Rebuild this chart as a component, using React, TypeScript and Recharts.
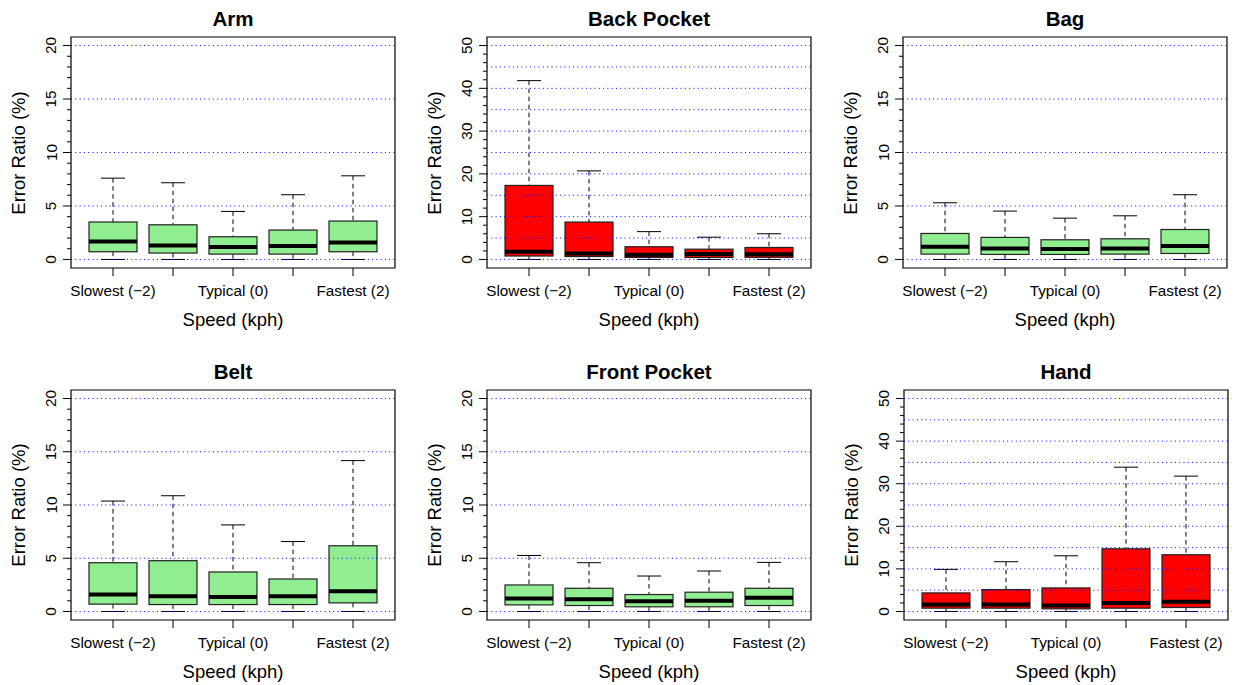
import { Bar, ComposedChart, ReferenceArea, ReferenceLine, XAxis, YAxis } from "recharts";

const speeds = [-2, -1, 0, 1, 2];
const speedLabels = ["Slowest (\u22122)", "", "Typical (0)", "", "Fastest (2)"];

// per speed: [lower whisker, Q1, median, Q3, upper whisker]
const arm = [
  [0, 0.72, 1.68, 3.5, 7.6],
  [0, 0.6, 1.31, 3.24, 7.17],
  [0, 0.5, 1.16, 2.12, 4.49],
  [0, 0.5, 1.25, 2.75, 6.05],
  [0, 0.72, 1.59, 3.59, 7.82],
];
const backPocket = [
  [0, 0.8, 1.8, 17.3, 41.8],
  [0, 0.68, 1.4, 8.74, 20.7],
  [0, 0.47, 1.1, 2.97, 6.5],
  [0, 0.47, 1.3, 2.4, 5.2],
  [0, 0.5, 1.2, 2.8, 6.0],
];
const bag = [
  [0, 0.5, 1.19, 2.43, 5.3],
  [0, 0.47, 1.03, 2.06, 4.52],
  [0, 0.47, 0.97, 1.84, 3.86],
  [0, 0.5, 1.03, 1.93, 4.08],
  [0, 0.56, 1.25, 2.8, 6.05],
];
const belt = [
  [0, 0.69, 1.59, 4.58, 10.37],
  [0, 0.65, 1.43, 4.77, 10.87],
  [0, 0.65, 1.37, 3.71, 8.13],
  [0, 0.65, 1.43, 3.05, 6.57],
  [0, 0.81, 1.9, 6.17, 14.17],
];
const frontPocket = [
  [0, 0.62, 1.21, 2.49, 5.26],
  [0, 0.56, 1.15, 2.18, 4.58],
  [0, 0.44, 0.97, 1.59, 3.33],
  [0, 0.44, 1.0, 1.81, 3.8],
  [0, 0.56, 1.28, 2.18, 4.61],
];
const hand = [
  [0, 0.78, 1.64, 4.36, 9.89],
  [0, 0.78, 1.64, 5.14, 11.68],
  [0, 0.62, 1.4, 5.53, 13.08],
  [0, 0.78, 2.02, 14.72, 33.88],
  [0, 0.93, 2.26, 13.32, 31.78],
];

const minor20 = [0, 1, 2, 3, 4, 5, 6, 7, 8, 9, 10, 11, 12, 13, 14, 15, 16, 17, 18, 19, 20];
const major20 = [0, 5, 10, 15, 20];
const grid20 = [0, 5, 10, 15, 20];
const minor50 = [0, 2, 4, 6, 8, 10, 12, 14, 16, 18, 20, 22, 24, 26, 28, 30, 32, 34, 36, 38, 40, 42, 44, 46, 48, 50];
const major50 = [0, 10, 20, 30, 40, 50];
const grid50 = [0, 5, 10, 15, 20, 25, 30, 35, 40, 45, 50];

const GREEN = "#90ee90";
const RED = "#ff0000";
const FONT = '"Liberation Sans", Arial, Helvetica, sans-serif';

const PLOT_W = 324;
const LEFT = 71;
const TOP = 37;
const PANEL_W = 403;
const PANEL_H = 342;
const Y_AXIS_W = 60;
const X_AXIS_H = 60;

const scales = {
  s20: { domain: [-0.8, 20.8], minor: minor20, major: major20, grid: grid20 },
  s50: { domain: [-2, 52], minor: minor50, major: major50, grid: grid50 },
};

const panels = [
  { title: "Arm", stats: arm, color: GREEN, scale: scales.s20, left: 71, top: 37, h: 231 },
  { title: "Back Pocket", stats: backPocket, color: RED, scale: scales.s50, left: 487, top: 37, h: 231 },
  { title: "Bag", stats: bag, color: GREEN, scale: scales.s20, left: 903, top: 37, h: 231 },
  { title: "Belt", stats: belt, color: GREEN, scale: scales.s20, left: 71, top: 390, h: 230 },
  { title: "Front Pocket", stats: frontPocket, color: GREEN, scale: scales.s20, left: 487, top: 390, h: 230 },
  { title: "Hand", stats: hand, color: RED, scale: scales.s50, left: 904, top: 390, h: 230 },
];

function BoxShape(props: any) {
  const { x, y, width, height, payload, fill } = props;
  const top = Math.min(y, y + height);
  const bottom = Math.max(y, y + height);
  const [lo, q1, med, q3, hi] = payload.stats;
  const toY = (v: number) => bottom - ((v - lo) / (hi - lo)) * (bottom - top);
  const cx = x + width / 2;
  const cap = width / 4;
  return (
    <g>
      <line x1={cx} x2={cx} y1={toY(hi)} y2={toY(q3)} stroke="#000" strokeDasharray="4.5 3.5" />
      <line x1={cx} x2={cx} y1={toY(q1)} y2={toY(lo)} stroke="#000" strokeDasharray="4.5 3.5" />
      <line x1={cx - cap} x2={cx + cap} y1={toY(hi)} y2={toY(hi)} stroke="#000" />
      <line x1={cx - cap} x2={cx + cap} y1={toY(lo)} y2={toY(lo)} stroke="#000" />
      <rect x={x} y={toY(q3)} width={width} height={toY(q1) - toY(q3)} fill={fill} stroke="#222" strokeWidth={1.2} />
      <line x1={x} x2={x + width} y1={toY(med)} y2={toY(med)} stroke="#000" strokeWidth={4} />
    </g>
  );
}

function XTick(props: any) {
  const { x, y, payload } = props;
  const label = speedLabels[speeds.indexOf(payload.value)];
  return (
    <g>
      <line x1={x} x2={x} y1={y} y2={y + 8} stroke="#000" />
      {label && (
        <text x={x} y={y + 22.5} textAnchor="middle" dominantBaseline="central" fontSize={15.3} fontFamily={FONT} fill="#000">
          {label}
        </text>
      )}
    </g>
  );
}

function YTick(props: any) {
  const { x, y, payload, major } = props;
  const isMajor = major.includes(payload.value);
  const tx = x - 20;
  return (
    <g>
      <line x1={x} x2={x - (isMajor ? 8 : 4)} y1={y} y2={y} stroke="#000" />
      {isMajor && (
        <text
          x={tx}
          y={y}
          transform={`rotate(-90 ${tx} ${y})`}
          textAnchor="middle"
          dominantBaseline="central"
          fontSize={15.3}
          fontFamily={FONT}
          fill="#000"
        >
          {payload.value}
        </text>
      )}
    </g>
  );
}

function Panel({ p }: { p: (typeof panels)[number] }) {
  const data = speeds.map((s, i) => ({ speed: s, range: [p.stats[i][0], p.stats[i][4]], stats: p.stats[i] }));
  const [y0, y1] = p.scale.domain;
  const text = { position: "absolute" as const, whiteSpace: "nowrap" as const, lineHeight: 1, fontFamily: FONT, color: "#000" };
  return (
    <div style={{ position: "absolute", left: p.left - LEFT, top: p.top - TOP, width: PANEL_W, height: PANEL_H }}>
      <ComposedChart
        width={PANEL_W}
        height={PANEL_H}
        data={data}
        margin={{ top: TOP, right: PANEL_W - LEFT - PLOT_W, bottom: PANEL_H - TOP - p.h - X_AXIS_H, left: LEFT - Y_AXIS_W }}
      >
        <XAxis
          type="number"
          dataKey="speed"
          domain={[-2.7, 2.7]}
          ticks={speeds}
          interval={0}
          height={X_AXIS_H}
          tickSize={0}
          tickMargin={0}
          axisLine={false}
          tick={<XTick />}
        />
        <YAxis
          type="number"
          domain={[y0, y1]}
          ticks={p.scale.minor}
          interval={0}
          width={Y_AXIS_W}
          tickSize={0}
          tickMargin={0}
          axisLine={false}
          tick={<YTick major={p.scale.major} />}
          allowDataOverflow
        />
        <Bar dataKey="range" fill={p.color} barSize={48} shape={<BoxShape />} isAnimationActive={false} />
        {p.scale.grid.map((g) => (
          <ReferenceLine key={g} y={g} stroke="#0000ff" strokeDasharray="1 3.3" strokeWidth={1} />
        ))}
        <ReferenceArea x1={-2.7} x2={2.7} y1={y0} y2={y1} fill="none" stroke="#000" strokeWidth={1.2} />
      </ComposedChart>
      <div style={{ ...text, left: LEFT + PLOT_W / 2, top: TOP - 18, transform: "translate(-50%, -50%)", fontSize: 20.5, fontWeight: 700 }}>
        {p.title}
      </div>
      <div style={{ ...text, left: LEFT + PLOT_W / 2, top: TOP + p.h + 51.5, transform: "translate(-50%, -50%)", fontSize: 18.5 }}>
        Speed (kph)
      </div>
      <div style={{ ...text, left: LEFT - 52, top: TOP + p.h / 2, transform: "translate(-50%, -50%) rotate(-90deg)", fontSize: 18.5 }}>
        Error Ratio (%)
      </div>
    </div>
  );
}

export default function App() {
  return (
    <div style={{ position: "absolute", left: 0, top: 0, width: 1237, height: 685, background: "#fff", overflow: "hidden" }}>
      {panels.map((p) => (
        <Panel key={p.title} p={p} />
      ))}
    </div>
  );
}
